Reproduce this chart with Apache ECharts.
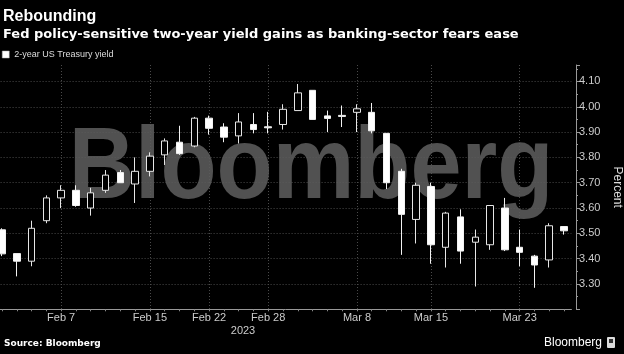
<!DOCTYPE html>
<html>
<head>
<meta charset="utf-8">
<script src="https://cdn.jsdelivr.net/npm/echarts@6/dist/echarts.min.js"></script>
<style>
html,body{margin:0;padding:0;background:#000;}
#c{width:624px;height:354px;}
</style>
</head>
<body>
<div id="c"></div>
<script>
// ---- data (trading days) ----
const dates = ['Feb 1','Feb 2','Feb 3','Feb 6','Feb 7','Feb 8','Feb 9','Feb 10','Feb 13','Feb 14',
  'Feb 15','Feb 16','Feb 17','Feb 21','Feb 22','Feb 23','Feb 24','Feb 27','Feb 28',
  'Mar 1','Mar 2','Mar 3','Mar 6','Mar 7','Mar 8','Mar 9','Mar 10','Mar 13','Mar 14',
  'Mar 15','Mar 16','Mar 17','Mar 20','Mar 21','Mar 22','Mar 23','Mar 24','Mar 27','Mar 28'];
const openV  = [3.514,3.42,3.39,3.55,3.64,3.67,3.60,3.67,3.74,3.695,
  3.745,3.81,3.86,3.845,3.955,3.92,3.885,3.93,3.921,
  3.93,3.985,4.065,3.964,3.966,3.978,3.978,3.895,3.745,3.555,
  3.685,3.445,3.565,3.465,3.455,3.60,3.445,3.41,3.395,3.527];
const closeV = [3.419,3.39,3.52,3.64,3.67,3.61,3.66,3.73,3.70,3.745,
  3.805,3.865,3.815,3.955,3.915,3.88,3.94,3.91,3.917,
  3.99,4.055,3.95,3.954,3.962,3.992,3.905,3.70,3.575,3.69,
  3.455,3.58,3.43,3.485,3.61,3.435,3.425,3.375,3.53,3.51];
const lowV   = [3.41,3.33,3.37,3.54,3.60,3.605,3.57,3.66,3.70,3.62,
  3.725,3.77,3.81,3.84,3.89,3.86,3.855,3.895,3.895,
  3.91,3.985,3.95,3.90,3.92,3.90,3.895,3.675,3.415,3.46,
  3.38,3.365,3.38,3.29,3.435,3.43,3.37,3.285,3.365,3.495];
const highV  = [3.52,3.42,3.55,3.65,3.69,3.69,3.68,3.75,3.75,3.80,
  3.82,3.875,3.925,3.96,3.965,3.935,3.975,3.975,3.98,
  4.01,4.09,4.065,3.985,4.005,4.01,4.015,3.895,3.755,3.70,
  3.70,3.585,3.595,3.515,3.61,3.64,3.515,3.415,3.54,3.527];
const tickLabels = ['Feb 7','Feb 15','Feb 22','Feb 28','Mar 8','Mar 15','Mar 23'];
const seriesName = '2-year US Treasury yield';

const ohlc = dates.map((d, i) => [openV[i], closeV[i], lowV[i], highV[i]]);
const showIdx = (i) => tickLabels.indexOf(dates[i]) >= 0;

const chart = echarts.init(document.getElementById('c'), null, {renderer: 'canvas'});
chart.setOption({
  backgroundColor: '#000',
  animation: false,
  legend: {
    left: 2, top: 50, padding: 0,
    itemWidth: 7, itemHeight: 7, icon: 'rect',
    textStyle: {color: '#ddd', fontSize: 9, fontFamily: 'Liberation Sans'},
    data: [{name: seriesName, itemStyle: {color: '#fff', borderColor: '#aaa', borderWidth: 0.5}}]
  },
  grid: {left: -5.4, right: 52.6, top: 65, bottom: 44.7, containLabel: false, outerBoundsMode: 'none'},
  xAxis: {
    type: 'category',
    data: dates,
    boundaryGap: true,
    axisLine: {show: true, onZero: false, lineStyle: {color: '#999', width: 1}},
    axisTick: {show: true, interval: 0, alignWithLabel: true, length: 2, lineStyle: {color: '#888'}},
    axisLabel: {
      interval: (i) => showIdx(i),
      color: '#ccc', fontSize: 11, fontFamily: 'Liberation Sans', margin: 3
    },
    splitLine: {
      show: true, alignWithLabel: true,
      interval: (i) => showIdx(i),
      lineStyle: {color: '#4a4a4a', type: [1, 2], width: 1}
    }
  },
  yAxis: {
    type: 'value',
    position: 'right',
    offset: 4.6,
    min: 3.2, max: 4.165, interval: 0.1,
    name: 'Percent', nameLocation: 'middle', nameGap: 31, nameRotate: -90,
    nameTextStyle: {color: '#ddd', fontSize: 12, fontFamily: 'Liberation Sans'},
    axisLine: {show: true, lineStyle: {color: '#999'}},
    axisTick: {show: true, length: 4, lineStyle: {color: '#999'}},
    minorTick: {show: true, splitNumber: 2, length: 2, lineStyle: {color: '#999'}},
    axisLabel: {
      color: '#ccc', fontSize: 11, fontFamily: 'Liberation Sans', margin: 3,
      showMaxLabel: false, showMinLabel: false,
      formatter: (v) => v.toFixed(2)
    },
    splitLine: {show: true, showMaxLine: false, lineStyle: {color: '#4a4a4a', type: [1, 2], width: 1}}
  },
  series: [{
    name: seriesName,
    type: 'candlestick',
    z: 3,
    barWidth: 7,
    data: ohlc,
    itemStyle: {
      color: '#000', color0: '#fff',
      borderColor: '#e6e6e6', borderColor0: '#f2f2f2', borderWidth: 1
    }
  }],
  graphic: {
    elements: [
      {type: 'text', x: 311, y: 170, scaleX: 0.9, z: 1, silent: true,
        style: {text: 'Bloomberg', font: 'bold 102px "Liberation Sans"', fill: 'rgba(92,92,92,0.88)',
          textAlign: 'center', textVerticalAlign: 'middle'}},
      {type: 'text', x: 3, y: 16.4, z: 10,
        style: {text: 'Rebounding', font: 'bold 16px "Liberation Sans"', fill: '#fff', textVerticalAlign: 'middle'}},
      {type: 'text', x: 3, y: 35, z: 10,
        style: {text: 'Fed policy-sensitive two-year yield gains as banking-sector fears ease',
          font: 'bold 13px "DejaVu Sans"', fill: '#fff', textVerticalAlign: 'middle'}},
      {type: 'text', x: 243, y: 331, z: 10,
        style: {text: '2023', font: '11px "Liberation Sans"', fill: '#ccc', textAlign: 'center', textVerticalAlign: 'middle'}},
      {type: 'text', x: 4, y: 344, z: 10,
        style: {text: 'Source: Bloomberg', font: 'bold 9px "DejaVu Sans"', fill: '#fff', textVerticalAlign: 'middle'}},
      {type: 'text', x: 602, y: 343, z: 10,
        style: {text: 'Bloomberg', font: '12px "Liberation Sans"', fill: '#fff', textAlign: 'right', textVerticalAlign: 'middle'}},
      {type: 'rect', z: 10, shape: {x: 607, y: 337, width: 8, height: 11, r: 1}, style: {fill: '#ddd'}},
      {type: 'rect', z: 11, shape: {x: 609, y: 339, width: 4, height: 4}, style: {fill: '#333'}}
    ]
  }
});
</script>
</body>
</html>
